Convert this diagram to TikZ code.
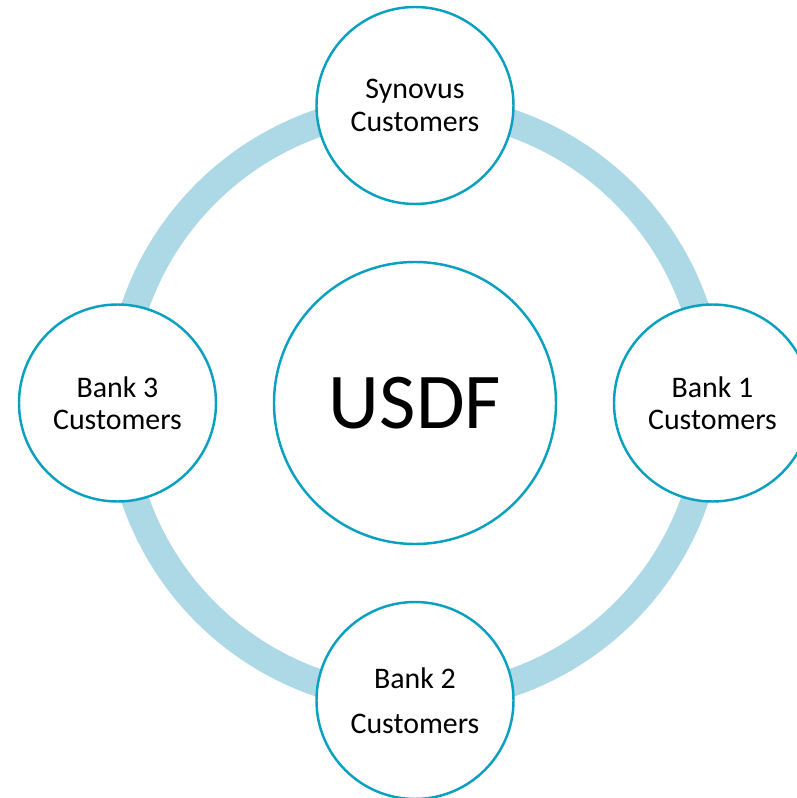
\documentclass[tikz,border=0pt]{standalone}
\usepackage{fontspec}
\setmainfont{Carlito}
\usepackage{xcolor}
\usetikzlibrary{positioning}
\definecolor{ringblue}{RGB}{173,216,230}
\definecolor{rimteal}{RGB}{10,160,192}

\begin{document}
\begin{tikzpicture}[
	node distance = 5.95cm,
	every node/.style = {circle, draw = rimteal, line width = 1.4pt, fill = white, align = center, inner sep = 0pt},
	cust/.style = {minimum size = 3.94cm, font = \fontsize{17}{18.5}\selectfont},
	hubnode/.style = {minimum size = 5.64cm, font = \fontsize{45}{50}\selectfont},
	ring/.style = {draw = ringblue, line width = 0.55cm}
	]
	
	\useasboundingbox (-8.3, -7.9) rectangle (7.64, 8.06);
	\coordinate (hub) at (0, 0);
	
	% the band behind the customer circles
	\draw[ring] (hub) circle (5.92);
	
	\node[hubnode] (usdf) at (hub) {USDF};
	
	\node[cust, above of = {usdf}] (synovus) {Synovus\\Customers};
	\node[cust, right of = {usdf}] (bank1) {Bank 1\\Customers};
	\node[cust, below of = {usdf}] (bank2) {Bank 2\\[7pt]Customers};
	\node[cust, left of = {usdf}] (bank3) {Bank 3\\Customers};

\end{tikzpicture}
\end{document}
